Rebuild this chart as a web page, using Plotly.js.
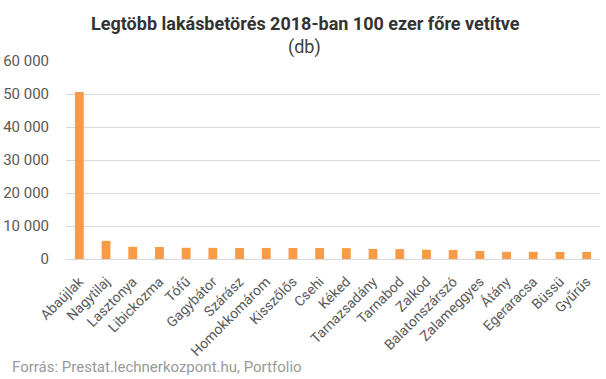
<!DOCTYPE html>
<html>
<head>
<meta charset="utf-8">
<script src="https://cdn.plot.ly/plotly-3.0.1.min.js"></script>
<style>html,body{margin:0;padding:0;background:#fff;}#chart{width:606px;height:379px;}</style>
</head>
<body>
<div id="chart"></div>
<script>
const categories = ["Abaújlak","Nagytilaj","Lasztonya","Libickozma","Tófű","Gagybátor","Szárász","Homokkomárom","Kisszőlős","Csehi","Kéked","Tarnazsadány","Tarnabod","Zalkod","Balatonszárszó","Zalameggyes","Átány","Egeraracsa","Büssü","Gyűrűs"];
const values = [50600, 5500, 3700, 3650, 3400, 3380, 3350, 3350, 3330, 3320, 3300, 3050, 3000, 2800, 2750, 2450, 2200, 2180, 2150, 2150];
const yTicks = [0, 10000, 20000, 30000, 40000, 50000, 60000];
const titleLine1 = "<b>Legtöbb lakásbetörés 2018-ban 100 ezer főre vetítve</b>";
const titleLine2 = "(db)";
const sourceText = "Forrás: Prestat.lechnerkozpont.hu, Portfolio";

const W = 606, H = 379, L = 66, R = 6, T = 61, B = 120;
const pw = W - L - R, ph = H - T - B;
const px = x => (x - L) / pw;
const py = y => (H - B - y) / ph;

const trace = {
  type: "bar",
  x: categories,
  y: values,
  marker: {color: "#F79B46"},
  width: 0.33,
  hoverinfo: "x+y"
};

const layout = {
  width: W, height: H,
  margin: {l: L, r: R, t: T, b: B},
  paper_bgcolor: "#fff", plot_bgcolor: "#fff",
  separators: ", ",
  font: {family: "Roboto, sans-serif", color: "#595959"},
  showlegend: false,
  xaxis: {
    type: "category",
    tickangle: -45,
    tickfont: {size: 14, color: "#595959"},
    ticklabelstandoff: 8,
    showgrid: false,
    showline: true, linecolor: "#d9d9d9", linewidth: 1,
    ticks: "", automargin: false
  },
  yaxis: {
    range: [0, 60000],
    tickvals: yTicks,
    tickformat: ",d",
    tickfont: {size: 15, color: "#595959"},
    ticklabelstandoff: 16,
    showgrid: true, gridcolor: "#d9d9d9", gridwidth: 1,
    zeroline: false, showline: false, ticks: "", automargin: false
  },
  annotations: [
    {text: titleLine1, xref: "paper", yref: "paper", x: px(305), y: py(23),
     xanchor: "center", yanchor: "middle", showarrow: false,
     font: {family: "Roboto, sans-serif", size: 18, color: "#333333"}},
    {text: titleLine2, xref: "paper", yref: "paper", x: px(304), y: py(47),
     xanchor: "center", yanchor: "middle", showarrow: false,
     font: {family: "Roboto, sans-serif", size: 18, color: "#404040"}},
    {text: sourceText, xref: "paper", yref: "paper", x: px(10), y: py(367),
     xanchor: "left", yanchor: "middle", showarrow: false,
     font: {family: "Roboto, sans-serif", size: 15, color: "#999999"}}
  ]
};

Plotly.newPlot("chart", [trace], layout, {displayModeBar: false, staticPlot: true});
</script>
</body>
</html>
